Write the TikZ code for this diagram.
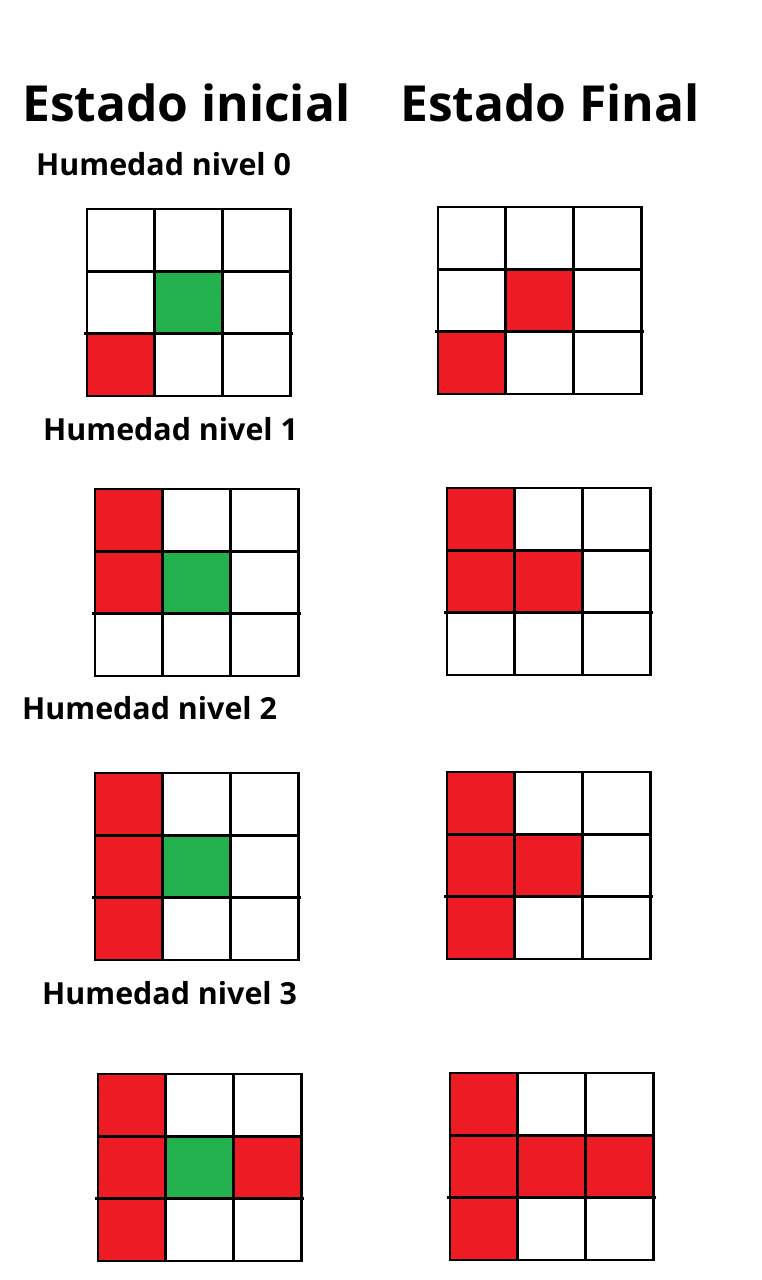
\documentclass[tikz,border=0pt]{standalone}
\usepackage{fontspec}
\setmainfont{Open Sans}
\usepackage{tikz}

\definecolor{rojo}{HTML}{ED1C24}
\definecolor{verde}{HTML}{22B14C}

\tikzset{
    celdarojo/.style={fill=rojo},
    celdaverde/.style={fill=verde},
    linea/.style={draw=black,line width=2.8pt},
    titulo/.style={anchor=base west,inner sep=0pt,font=\bfseries\fontsize{49.7}{56}\selectfont},
    nivel/.style={anchor=base west,inner sep=0pt,font=\bfseries\fontsize{30.4}{35}\selectfont},
    tablero/.style={x=67.7pt,y=-62.3pt}
}

\begin{document}
\begin{tikzpicture}[x=1pt,y=-1pt]
                \useasboundingbox
                    (0,0) rectangle (762,1280);
                \node[titulo] (inicial)
                    at (22,121) {Estado inicial};
                \node[titulo] (final)
                    at (400,121) {Estado Final};
                \node[nivel] (nivel0)
                    at (36,175) {Humedad nivel 0};
                \node[nivel] (nivel1)
                    at (43,440) {Humedad nivel 1};
                \node[nivel] (nivel2)
                    at (22,719) {Humedad nivel 2};
                \node[nivel] (nivel3)
                    at (42,1004) {Humedad nivel 3};
                % nivel 0
                \begin{scope}[shift={(87,209)},tablero]
                    \fill[celdarojo] (0,2) rectangle (1,3);
                    \fill[celdaverde] (1,1) rectangle (2,2);
                \end{scope}
                \begin{scope}[shift={(438,207)},tablero]
                    \fill[celdarojo] (0,2) rectangle (1,3);
                    \fill[celdarojo] (1,1) rectangle (2,2);
                \end{scope}
                % nivel 1
                \begin{scope}[shift={(95,489)},tablero]
                    \fill[celdarojo] (0,0) rectangle (1,2);
                    \fill[celdaverde] (1,1) rectangle (2,2);
                \end{scope}
                \begin{scope}[shift={(447,488)},tablero]
                    \fill[celdarojo] (0,0) rectangle (1,2);
                    \fill[celdarojo] (1,1) rectangle (2,2);
                \end{scope}
                % nivel 2
                \begin{scope}[shift={(95,773)},tablero]
                    \fill[celdarojo] (0,0) rectangle (1,3);
                    \fill[celdaverde] (1,1) rectangle (2,2);
                \end{scope}
                \begin{scope}[shift={(447,772)},tablero]
                    \fill[celdarojo] (0,0) rectangle (1,3);
                    \fill[celdarojo] (1,1) rectangle (2,2);
                \end{scope}
                % nivel 3
                \begin{scope}[shift={(98,1074)},tablero]
                    \fill[celdarojo] (0,0) rectangle (1,3);
                    \fill[celdaverde] (1,1) rectangle (2,2);
                    \fill[celdarojo] (2,1) rectangle (3,2);
                \end{scope}
                \begin{scope}[shift={(450,1073)},tablero]
                    \fill[celdarojo] (0,0) rectangle (1,3);
                    \fill[celdarojo] (1,1) rectangle (3,2);
                \end{scope}
                % cuadriculas
                \foreach \gx/\gy in {87/209,438/207,95/489,447/488,95/773,447/772,98/1074,450/1073}
                {
                    \begin{scope}[shift={(\gx,\gy)},tablero]
                        \path[linea]
                            (0,0) -- (3,0) -- (3,3) -- (0,3) -- cycle;
                        \path[linea]
                            (1,0) -- (1,3) (2,0) -- (2,3) (0,1) -- (3,1);
                        \path[linea]
                            (-0.04,2) -- (3.04,2);
                    \end{scope}
                }
\end{tikzpicture}
\end{document}
